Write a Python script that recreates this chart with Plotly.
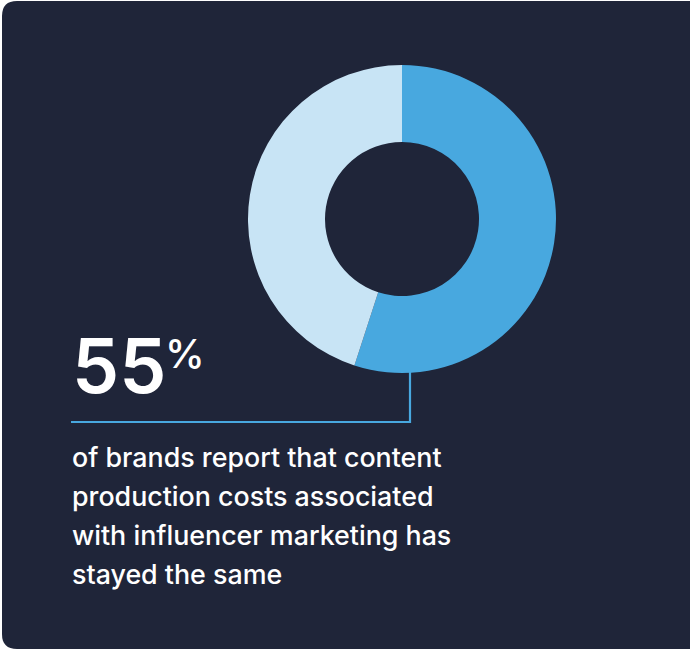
import plotly.graph_objects as go

# Survey split: content production costs vs. influencer marketing
labels = ["Stayed the same", "Changed"]
values = [55, 45]
colors = ["#48a8df", "#c8e4f5"]

caption_lines = [
    "of brands report that content",
    "production costs associated",
    "with influencer marketing has",
    "stayed the same",
]

W, H = 690, 650
BG = "#1f2539"
ACCENT = "#48a8df"
FONT = "Inter, 'Noto Sans', sans-serif"


def px(x):
    return x / W


def py(y):
    return 1 - y / H


# donut geometry (pixels)
cx, cy, r = 402, 219, 154

fig = go.Figure()
fig.add_trace(
    go.Pie(
        labels=labels,
        values=values,
        hole=0.5,
        sort=False,
        direction="clockwise",
        rotation=0,
        marker=dict(colors=colors, line=dict(width=0)),
        textinfo="none",
        hoverinfo="label+percent",
        showlegend=False,
        domain=dict(x=[px(cx - r), px(cx + r)], y=[py(cy + r), py(cy - r)]),
    )
)

# rounded dark panel (left corners rounded)
x0, y0, x1, y1, rad = 2, 1, 700, 649, 15
path = (
    f"M {px(x0 + rad)} {py(y0)} L {px(x1)} {py(y0)} L {px(x1)} {py(y1)} "
    f"L {px(x0 + rad)} {py(y1)} Q {px(x0)} {py(y1)} {px(x0)} {py(y1 - rad)} "
    f"L {px(x0)} {py(y0 + rad)} Q {px(x0)} {py(y0)} {px(x0 + rad)} {py(y0)} Z"
)
shapes = [
    dict(type="path", xref="paper", yref="paper", path=path,
         fillcolor=BG, line=dict(width=0), layer="below"),
    # leader line from the donut down and across to the caption
    dict(type="path", xref="paper", yref="paper",
         path=f"M {px(410)} {py(cy + r - 1)} L {px(410)} {py(422)} L {px(71)} {py(422)}",
         line=dict(color=ACCENT, width=2.2)),
]

annotations = [
    dict(text=f"{values[0]}", x=px(70), y=py(366), xref="paper", yref="paper",
         xanchor="left", yanchor="middle", showarrow=False,
         font=dict(family=FONT, size=75, color="white", weight=600)),
    dict(text="%", x=px(163), y=py(353), xref="paper", yref="paper",
         xanchor="left", yanchor="middle", showarrow=False,
         font=dict(family=FONT, size=40, color="white", weight=500)),
]
for i, line in enumerate(caption_lines):
    annotations.append(
        dict(text=line, x=px(70), y=py(457 + 39 * i), xref="paper", yref="paper",
             xanchor="left", yanchor="middle", showarrow=False,
             font=dict(family=FONT, size=26.8, color="white", weight=500))
    )

fig.update_layout(
    width=W, height=H, autosize=False,
    margin=dict(l=0, r=0, t=0, b=0),
    paper_bgcolor="white", plot_bgcolor="white",
    shapes=shapes, annotations=annotations,
)

fig.write_html("out.html")
